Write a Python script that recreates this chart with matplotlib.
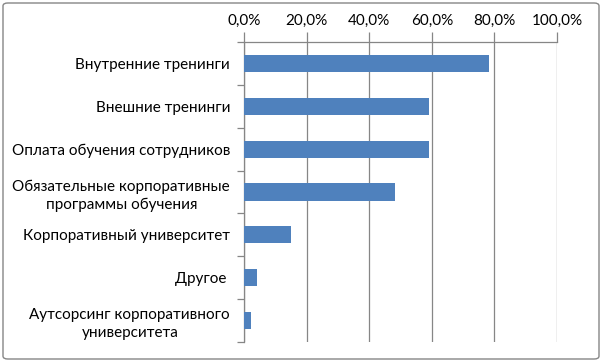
import matplotlib
matplotlib.use('Agg')
import matplotlib.pyplot as plt
from matplotlib.patches import FancyBboxPatch
from matplotlib.ticker import FuncFormatter, MultipleLocator

categories = ['Внутренние тренинги',
              'Внешние тренинги',
              'Оплата обучения сотрудников',
              'Обязательные корпоративные\nпрограммы обучения',
              'Корпоративный университет',
              'Другое ',
              'Аутсорсинг корпоративного\nуниверситета']
values = [78.3, 59.1, 59.1, 48.2, 15.0, 4.0, 2.2]

plt.rcParams['font.family'] = ['Lato', 'DejaVu Sans']

fig = plt.figure(figsize=(6.03, 3.62), dpi=100)
ax = fig.add_axes([244 / 603, 1 - 342 / 362, 313 / 603, 300 / 362])

ypos = list(range(len(categories)))
ax.barh(ypos, values, height=0.4, color='#4F81BD', zorder=3)

ax.set_xlim(0, 100)
ax.set_ylim(len(categories) - 0.5, -0.5)
ax.xaxis.set_major_locator(MultipleLocator(20))
ax.xaxis.set_major_formatter(FuncFormatter(lambda v, p: f'{v:.1f}%'.replace('.', ',')))
ax.xaxis.tick_top()
ax.grid(axis='x', color='#868686', linewidth=0.9, zorder=0)

ax.set_yticks(ypos)
ax.set_yticklabels(categories, multialignment='center', linespacing=1.4)
ax.set_yticks([i + 0.5 for i in range(-1, len(categories))], minor=True)
ax.tick_params(axis='y', which='major', length=0, pad=10, labelsize=11)
ax.tick_params(axis='y', which='minor', length=5, color='#868686', width=0.9)
ax.tick_params(axis='x', length=7, color='#868686', width=0.9, labelsize=11, pad=3)

for side in ['right', 'bottom']:
    ax.spines[side].set_visible(False)
for side in ['left', 'top']:
    ax.spines[side].set_color('#868686')
    ax.spines[side].set_linewidth(0.9)

border = FancyBboxPatch((3 / 603, 3 / 362), 596 / 603, 356 / 362,
                        boxstyle='round,pad=0,rounding_size=0.008',
                        transform=fig.transFigure, fill=False,
                        edgecolor='#868686', linewidth=1.0)
fig.patches.append(border)

fig.savefig('out.png', dpi=100)
